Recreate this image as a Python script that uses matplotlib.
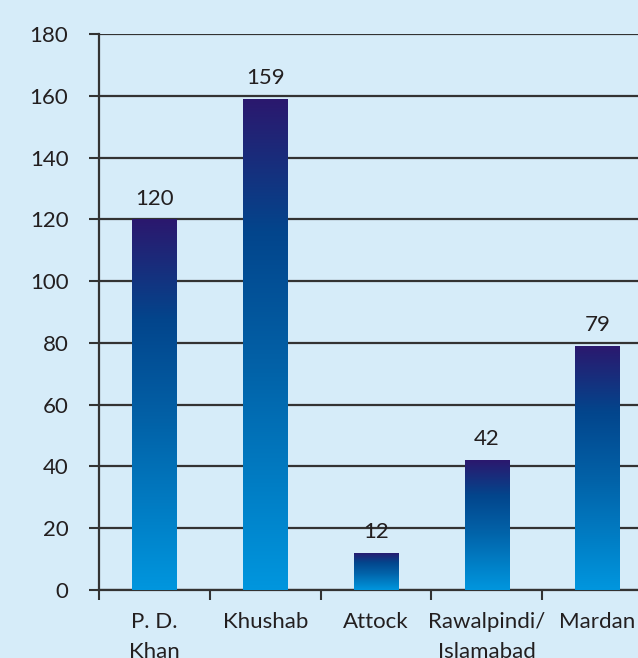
import matplotlib
matplotlib.use("Agg")
import matplotlib.pyplot as plt
import numpy as np
from matplotlib.colors import LinearSegmentedColormap

categories = ["P. D.\nKhan", "Khushab", "Attock", "Rawalpindi/\nIslamabad", "Mardan"]
values = [120, 159, 12, 42, 79]
yticks = [0, 20, 40, 60, 80, 100, 120, 140, 160, 180]

plt.rcParams['font.family'] = ['Lato', 'DejaVu Sans']
FS = 16
TXT = '#231f20'
bg = '#d6ecf9'
W, H = 638, 658
fig = plt.figure(figsize=(W/100, H/100), dpi=100, facecolor=bg)
left, right, bottom, top = 99, 653, 590, 34
ax = fig.add_axes([left/W, 1-bottom/H, (right-left)/W, (bottom-top)/H])
ax.set_facecolor(bg)

x = np.arange(len(categories))
bars = ax.bar(x, values, width=0.4, color='none', zorder=3)
cmap = LinearSegmentedColormap.from_list('g', [(0, '#0096de'), (0.45, '#0262a8'), (0.73, '#03458c'), (1.0, '#2b186e')])
grad = np.linspace(0, 1, 256).reshape(-1, 1)
for b, v in zip(bars, values):
    x0, w, h = b.get_x(), b.get_width(), b.get_height()
    im = ax.imshow(grad, cmap=cmap, origin='lower', aspect='auto',
                   extent=[x0, x0 + w, 0, h], zorder=3)
    im.set_clip_path(b)
    ax.text(x0 + w/2, h + 4.8, str(v),
            ha='center', va='baseline', fontsize=FS, color=TXT, zorder=4)

ax.set_xlim(-0.5, len(categories) - 0.5)
ax.set_ylim(0, 180)
ax.set_yticks(yticks)
ax.set_yticklabels([str(v) for v in yticks], fontsize=FS, color=TXT)
ax.yaxis.grid(True, color='#333333', linewidth=1.6, zorder=1)
ax.set_axisbelow(True)

ax.set_xticks(np.arange(len(categories) + 1) - 0.5)
ax.set_xticklabels([])
ax.set_xticks(x, minor=True)
ax.set_xticklabels(categories, minor=True, fontsize=FS, color=TXT, va='top', linespacing=1.6)
ax.tick_params(axis='x', which='minor', length=0, pad=16)
ax.tick_params(axis='x', which='major', length=7, width=1.5, color='#333333', direction='out')
ax.tick_params(axis='y', length=7, width=1.5, color='#333333', pad=15)

for s in ['top', 'right']:
    ax.spines[s].set_visible(False)
ax.spines['left'].set_color('#333333')
ax.spines['left'].set_linewidth(1.6)
ax.spines['bottom'].set_color('#333333')
ax.spines['bottom'].set_linewidth(1.6)

fig.savefig('out.png', dpi=100, facecolor=bg)
